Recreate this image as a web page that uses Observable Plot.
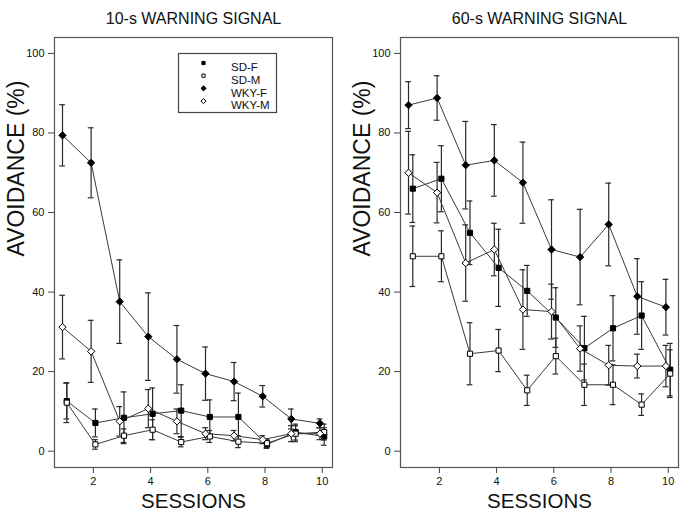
<!DOCTYPE html>
<html><head><meta charset="utf-8">
<script src="https://cdn.jsdelivr.net/npm/d3@7"></script>
<script src="https://cdn.jsdelivr.net/npm/@observablehq/plot@0.6"></script>
<style>
body{margin:0;background:#fff;}
#chart{display:flex;width:680px;height:514px;font-family:"Liberation Sans",Arial,sans-serif;}
</style></head><body><div id="chart"></div>
<script>
const sessions = [1,2,3,4,5,6,7,8,9,10];
const seriesNames = ["SD-F","SD-M","WKY-F","WKY-M"];
const yTicks = [0,20,40,60,80,100];
const xTicks = [2,4,6,8,10];
const panelTitles = ["10-s WARNING SIGNAL","60-s WARNING SIGNAL"];

// 10-s warning signal: mean and SEM
const sdF10 = [12.6, 7.1, 8.4, 9.4, 10.2, 8.6, 8.6, 1.7, 4.8, 3.7];
const sdF10e = [4.5, 3.5, 6.5, 6.5, 6.5, 4.3, 6.0, 1.0, 2.0, 2.2];
const sdM10 = [12.2, 1.7, 3.9, 5.4, 2.3, 3.7, 2.4, 2.0, 4.4, 4.8];
const sdM10e = [5.0, 1.2, 1.7, 2.5, 1.2, 1.5, 1.5, 1.0, 2.0, 2.0];
const wkyF10 = [79.4, 72.5, 37.6, 28.8, 23.1, 19.5, 17.5, 13.8, 8.1, 7.0];
const wkyF10e = [7.7, 8.8, 10.5, 11.0, 8.5, 6.7, 4.8, 2.7, 2.5, 1.1];
const wkyM10 = [31.2, 25.1, 7.5, 10.7, 7.5, 4.4, 3.9, 2.9, 4.4, 4.4];
const wkyM10e = [8.0, 7.8, 3.7, 4.8, 3.1, 1.5, 1.3, 1.0, 2.0, 1.5];

// 60-s warning signal: mean and SEM
const sdF60 = [66.0, 68.5, 54.9, 46.1, 40.3, 33.6, 25.9, 30.9, 34.1, 20.5];
const sdF60e = [8.5, 8.3, 8.0, 9.7, 6.4, 7.5, 8.0, 8.2, 8.5, 6.6];
const sdM60 = [49.0, 49.0, 24.5, 25.3, 15.3, 23.9, 16.7, 16.7, 11.7, 19.5];
const sdM60e = [7.6, 6.4, 7.8, 5.3, 3.8, 4.5, 5.2, 5.0, 2.7, 6.0];
const wkyF60 = [87.0, 88.8, 71.9, 73.1, 67.5, 50.7, 48.8, 57.0, 38.9, 36.2];
const wkyF60e = [5.9, 5.6, 11.0, 9.0, 10.2, 12.5, 12.0, 10.4, 9.5, 7.0];
const wkyM60 = [70.0, 65.0, 47.3, 50.7, 35.6, 35.1, 25.8, 21.6, 21.4, 21.4];
const wkyM60e = [10.4, 7.6, 9.6, 6.6, 10.0, 6.9, 5.7, 5.0, 3.0, 5.2];

const style = {
  "SD-F": {symbol: "square", fill: "black", off: 0.07},
  "SD-M": {symbol: "square", fill: "white", off: 0.07},
  "WKY-F": {symbol: "diamond2", fill: "black", off: -0.08},
  "WKY-M": {symbol: "diamond2", fill: "white", off: -0.08}
};

function rows(name, means, sems) {
  return sessions.map((s, i) => ({series: name, session: s, mean: means[i], sem: sems[i], xo: s + style[name].off}));
}

const panels = [
  {title: panelTitles[0], legend: true, ml: 54, mr: 8,
   data: [rows("SD-F", sdF10, sdF10e), rows("SD-M", sdM10, sdM10e), rows("WKY-F", wkyF10, wkyF10e), rows("WKY-M", wkyM10, wkyM10e)]},
  {title: panelTitles[1], legend: false, ml: 60, mr: 2,
   data: [rows("SD-F", sdF60, sdF60e), rows("SD-M", sdM60, sdM60e), rows("WKY-F", wkyF60, wkyF60e), rows("WKY-M", wkyM60, wkyM60e)]}
];

const font = "Liberation Sans, Arial, sans-serif";

function makePanel(p) {
  const marks = [
    Plot.frame({stroke: "#555", strokeWidth: 1.2}),
    Plot.axisY({ticks: yTicks, tickSize: 6, tickPadding: 4, fontSize: 11, label: null, stroke: "#444", color: "#111"}),
    Plot.axisX({ticks: xTicks, tickSize: 6, tickPadding: 4, fontSize: 11, label: null, stroke: "#444", color: "#111"})
  ];
  for (const d of p.data) {
    marks.push(Plot.line(d, {x: "xo", y: "mean", stroke: "#3a3a3a", strokeWidth: 1}));
    marks.push(Plot.ruleX(d, {x: "xo", y1: r => r.mean - r.sem, y2: r => r.mean + r.sem, stroke: "#2a2a2a", strokeWidth: 1.2}));
    marks.push(Plot.ruleY(d, {y: r => r.mean + r.sem, x1: r => r.xo - 0.1, x2: r => r.xo + 0.1, stroke: "#2a2a2a", strokeWidth: 1.2}));
    marks.push(Plot.ruleY(d, {y: r => r.mean - r.sem, x1: r => r.xo - 0.1, x2: r => r.xo + 0.1, stroke: "#2a2a2a", strokeWidth: 1.2}));
  }
  for (const d of p.data) {
    const st = style[d[0].series];
    marks.push(Plot.dot(d, {x: "xo", y: "mean", symbol: () => st.symbol, fill: st.fill, stroke: "black", strokeWidth: 1, r: st.symbol === "square" ? 2.9 : 3.3}));
  }
  marks.push(Plot.text([p.title], {text: d => d, frameAnchor: "top", dy: -25, fontSize: 16, fill: "#111"}));
  marks.push(Plot.text(["SESSIONS"], {text: d => d, frameAnchor: "bottom", dy: 40.5, fontSize: 20.5, fill: "#111"}));
  marks.push(Plot.text(["AVOIDANCE (%)"], {text: d => d, frameAnchor: "left", dx: -38, dy: 4, rotate: -90, fontSize: 23, fill: "#111"}));
  if (p.legend) {
    marks.push(Plot.frame({insetLeft: 124, insetRight: 56, insetTop: 16, insetBottom: 355, stroke: "#444", strokeWidth: 1.2, fill: "white"}));
    seriesNames.forEach((name, i) => {
      const st = style[name];
      marks.push(Plot.dot([name], {frameAnchor: "top-left", dx: 149, dy: 25.5 + i * 12.7, symbol: () => st.symbol, fill: st.fill, stroke: "black", strokeWidth: 1, r: st.symbol === "square" ? 1.8 : 2.3}));
      marks.push(Plot.text([name], {text: d => d, frameAnchor: "top-left", dx: 176.5, dy: 25.5 + i * 12.7, textAnchor: "start", fontSize: 11.5, fill: "#111"}));
    });
  }
  return Plot.plot({
    width: 340, height: 514,
    marginLeft: p.ml, marginRight: p.mr, marginTop: 37, marginBottom: 47,
    style: {fontFamily: font, background: "white", overflow: "visible"},
    x: {domain: [0.64, 10.36]},
    y: {domain: [-4.1, 104.0]},
    symbol: {type: "identity"},
    marks
  });
}

const chart = document.getElementById("chart");
for (const p of panels) chart.appendChild(makePanel(p));
</script>
</body></html>
